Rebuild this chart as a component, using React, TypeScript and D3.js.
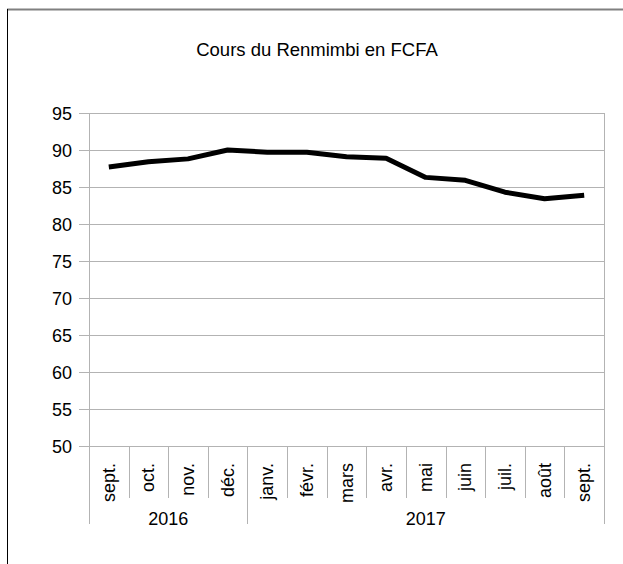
import React from 'react';
import * as d3 from 'd3';

const months = ['sept.', 'oct.', 'nov.', 'déc.', 'janv.', 'févr.', 'mars', 'avr.', 'mai', 'juin', 'juil.', 'août', 'sept.'];
const rates = [87.7, 88.4, 88.8, 90.0, 89.7, 89.7, 89.1, 88.9, 86.3, 85.9, 84.3, 83.4, 83.9];
const years = [
  { label: '2016', from: 0, to: 4 },
  { label: '2017', from: 4, to: 13 },
];
const yTicks = [50, 55, 60, 65, 70, 75, 80, 85, 90, 95];
const title = 'Cours du Renmimbi en FCFA';

const W = 623;
const H = 564;
const left = 89;
const right = 604;
const top = 113;
const bottom = 446;
const font = '"Liberation Sans", Arial, sans-serif';

export default function App() {
  const x = d3.scaleBand<number>().domain(d3.range(months.length)).range([left, right]);
  const y = d3.scaleLinear().domain([50, 95]).range([bottom, top]);
  const line = d3.line<number>()
    .x((_, i) => x(i)! + x.bandwidth() / 2)
    .y((d) => y(d));
  const edge = (i: number) => (i >= months.length ? right : x(i)!);

  return (
    <svg width={W} height={H} style={{ position: 'absolute', left: 0, top: 0 }} fontFamily={font}>
      <rect width={W} height={H} fill="#fff" />
      <line x1={7} x2={W} y1={9.5} y2={9.5} stroke="#808080" strokeWidth={2} />
      <line x1={7.5} x2={7.5} y1={9} y2={H} stroke="#000" strokeWidth={1} />
      <text x={317} y={56} textAnchor="middle" fontSize={18.5} fill="#000">{title}</text>

      {yTicks.map((t) => (
        <g key={t}>
          <line x1={left - 10} x2={right} y1={Math.round(y(t)) + 0.5} y2={Math.round(y(t)) + 0.5} stroke="#b3b3b3" />
          <text x={72} y={y(t) + 6.5} textAnchor="end" fontSize={18} fill="#000">{t}</text>
        </g>
      ))}
      <line x1={left + 0.5} x2={left + 0.5} y1={top} y2={bottom} stroke="#b3b3b3" />
      <line x1={right + 0.5} x2={right + 0.5} y1={top} y2={bottom} stroke="#b3b3b3" />

      {months.map((m, i) => (
        <g key={i}>
          {i > 0 && (
            <line x1={Math.round(x(i)!) + 0.5} x2={Math.round(x(i)!) + 0.5} y1={bottom} y2={498} stroke="#b3b3b3" />
          )}
          <text
            transform={`translate(${x(i)! + x.bandwidth() / 2 + 6},463) rotate(-90)`}
            textAnchor="end"
            fontSize={18}
            fill="#000"
          >
            {m}
          </text>
        </g>
      ))}

      {years.map((yr, i) => (
        <g key={yr.label}>
          <line x1={Math.round(edge(yr.from)) + 0.5} x2={Math.round(edge(yr.from)) + 0.5} y1={bottom} y2={524} stroke="#b3b3b3" />
          {i === years.length - 1 && (
            <line x1={Math.round(edge(yr.to)) + 0.5} x2={Math.round(edge(yr.to)) + 0.5} y1={bottom} y2={524} stroke="#b3b3b3" />
          )}
          <text x={(edge(yr.from) + edge(yr.to)) / 2} y={525} textAnchor="middle" fontSize={18} fill="#000">{yr.label}</text>
        </g>
      ))}

      <path d={line(rates) ?? ''} fill="none" stroke="#000" strokeWidth={5} strokeLinejoin="round" />
    </svg>
  );
}
